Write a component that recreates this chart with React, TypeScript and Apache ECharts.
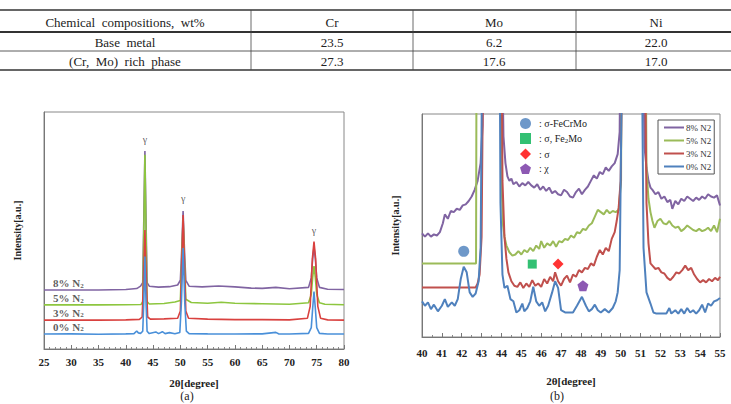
import React, { useEffect, useRef } from "react";
import * as echarts from "echarts";

const serif = "Liberation Serif, Times New Roman, serif";

// ---------- table ----------
const tableHeader = ["Chemical  compositions,  wt%", "Cr", "Mo", "Ni"];
const tableRows = [
  ["Base  metal", "23.5", "6.2", "22.0"],
  ["(Cr,  Mo)  rich  phase", "27.3", "17.6", "17.0"],
];

// ---------- chart (a): wide XRD scan ----------
const aXMin = 25;
const aXMax = 80;
const aXInterval = 5;

const a0 = [[25,6.3],[30,6.4],[35,6.2],[40,6.4],[41.5,6.5],[42,7.6],[42.3,6.8],[42.7,6.6],[43.1,7.5],[43.3,20],[43.5,39],[43.7,20],[43.9,7.5],[44.3,6.5],[45.5,7.2],[46,6.5],[46.7,7.3],[47.2,6.5],[48,6.9],[49,6.4],[49.9,7],[50.2,20],[50.5,42.6],[50.8,20],[51.1,7.5],[51.6,6.5],[55,6.4],[60,6.3],[65,6.4],[67.5,7.0],[68,6.4],[70,6.3],[73.5,6.6],[74.0,9],[74.25,17],[74.5,24.2],[74.75,17],[75.0,9],[75.5,6.6],[77,6.3],[80,6.3]];
const a3 = [[25,12.2],[35,12.2],[40,12.3],[42.5,12.5],[43,13.5],[43.25,30],[43.5,50.2],[43.75,30],[44,13.5],[44.5,12.6],[47,12.7],[49.5,13],[50,16],[50.25,35],[50.5,56.5],[50.75,35],[51.0,16],[51.5,13],[55,12.6],[60,12.4],[65,12.4],[70,12.3],[73.3,13],[73.8,18],[74.2,38],[74.5,45.3],[74.8,38],[75.2,18],[75.7,13],[77,12.3],[80,12.2]];
const a5 = [[25,18.6],[35,18.6],[40,18.7],[42.8,18.8],[43.1,20],[43.3,50],[43.5,82],[43.7,50],[43.9,20],[44.3,19],[47,19.2],[49,19.8],[50,20.5],[50.25,38],[50.5,55],[50.75,38],[51,21],[52,19.6],[55,19.3],[57.5,19.7],[60,19.3],[65,19.1],[70,18.9],[73.5,19.5],[74,23],[74.25,30],[74.5,35],[74.75,30],[75,23],[75.5,19.5],[76.5,18.9],[80,18.7]];
const a8 = [[25,24.9],[35,24.9],[40,25.1],[42,25.5],[42.7,26.5],[43.1,28],[43.3,55],[43.5,83.5],[43.7,55],[43.9,28],[44.3,26.5],[46,26.1],[48,26.3],[49.5,27],[50,29],[50.25,42],[50.5,58.2],[50.75,42],[51,29],[51.6,26.5],[54,26.2],[57,26.6],[60,26.2],[63,25.7],[65,25.6],[67.5,26],[70,25.4],[73.5,26],[74,30],[74.25,38],[74.5,43],[74.75,38],[75,30],[75.5,26],[77,25.2],[80,25.1]];

const gammaPeaks = [[43.5, 88.2], [50.5, 63.7], [74.5, 50.2]];
const aCurveLabels = [[26, 27.8, "8%"], [26, 21.5, "5%"], [26, 15.2, "3%"], [26, 9.3, "0%"]];

// ---------- chart (b): zoomed XRD scan ----------
const bXMin = 40;
const bXMax = 55;
const bXInterval = 1;

const b0 = [[40.0,16],[40.15,14],[40.3,15.5],[40.45,12.5],[40.6,14.5],[40.8,11.5],[41.0,14],[41.15,17],[41.3,13.5],[41.5,15.5],[41.65,14],[41.8,17],[41.95,26],[42.1,31.5],[42.25,29],[42.4,20],[42.55,18],[42.7,19.5],[42.85,25],[42.95,40],[43.05,150],[43.9,150],[43.95,60],[44.05,28],[44.15,22],[44.3,23],[44.45,17],[44.6,16],[44.75,11],[44.9,12],[45.05,15],[45.15,11.5],[45.3,13],[45.45,16],[45.6,22.5],[45.75,16],[45.9,14],[46.05,15.5],[46.2,11.5],[46.35,14],[46.55,20],[46.7,25],[46.85,22],[47.0,12],[47.2,11],[47.4,11],[47.6,11],[47.8,14],[48.05,18],[48.25,14],[48.4,11.5],[48.55,12.5],[48.7,14.5],[48.85,12],[49.0,11],[49.2,12.5],[49.4,11],[49.6,13],[49.75,16],[49.85,20],[49.95,30],[50.1,150],[51.05,150],[51.15,40],[51.3,20],[51.5,15],[51.65,11],[51.8,10.5],[52.0,10.5],[52.3,10.5],[52.45,13],[52.55,10.5],[52.75,12],[52.9,10.5],[53.05,12.5],[53.2,10.5],[53.35,13],[53.5,11],[53.65,12],[53.8,10.5],[53.95,12],[54.1,14.5],[54.25,11],[54.4,15],[54.55,14],[54.7,16],[54.85,16.5],[55.0,17.5]];
const b3 = [[40.0,22.2],[42.7,22.2],[42.8,24],[42.9,28],[43.0,45],[43.1,150],[44.0,150],[44.05,70],[44.15,45],[44.25,35],[44.35,29],[44.5,25],[44.65,23],[44.8,22.5],[44.95,24.5],[45.1,22],[45.25,24],[45.4,22.5],[45.55,25.5],[45.7,23],[45.85,24],[46.0,22.5],[46.15,26],[46.3,24],[46.45,27],[46.6,25],[46.7,29],[46.85,25],[47.0,23],[47.15,26],[47.3,27.5],[47.45,24.5],[47.6,28],[47.75,27],[47.9,30],[48.05,29],[48.2,31],[48.35,30.5],[48.5,33],[48.65,32],[48.8,36],[48.95,39],[49.1,37],[49.25,40],[49.4,38.5],[49.55,44],[49.7,47],[49.8,52],[49.9,58],[50.0,70],[50.1,150],[51.2,150],[51.3,60],[51.4,42],[51.5,33],[51.6,32],[51.75,30.5],[51.9,31],[52.05,29],[52.2,28.5],[52.35,26.5],[52.5,25.5],[52.65,27],[52.8,29],[52.95,28.5],[53.1,30],[53.25,32],[53.4,30],[53.55,31],[53.7,28],[53.85,26],[54.0,24.5],[54.15,25.5],[54.3,24.5],[54.45,26],[54.6,25],[54.75,26.5],[54.9,25.5],[55.0,27]];
const b5 = [[40.0,33],[42.72,33],[42.75,150],[43.95,150],[44.0,70],[44.08,50],[44.15,45],[44.25,41],[44.4,38],[44.55,36.5],[44.7,37],[44.85,38.5],[45.0,37],[45.15,39],[45.3,38],[45.45,40],[45.6,38.5],[45.75,41],[45.9,39.5],[46.0,43],[46.15,40],[46.3,42],[46.45,41],[46.6,43],[46.75,40.5],[46.9,43],[47.05,42.5],[47.2,44],[47.35,43.5],[47.5,45.5],[47.65,44.5],[47.8,47],[47.95,46.5],[48.1,48.5],[48.25,48],[48.4,50],[48.55,51],[48.7,54],[48.85,57],[49.0,56],[49.15,55],[49.3,57],[49.45,55.5],[49.6,56.5],[49.75,56],[49.9,57],[50.02,70],[50.05,150],[51.25,150],[51.3,75],[51.4,62],[51.5,56],[51.6,52],[51.7,49],[51.85,52],[52.0,53],[52.15,51],[52.3,50.5],[52.45,52],[52.6,50],[52.75,49],[52.9,49.5],[53.05,47.5],[53.2,48.5],[53.35,50],[53.5,49],[53.65,48],[53.8,47.5],[53.95,48.5],[54.1,47.5],[54.25,48],[54.4,49],[54.55,47.5],[54.7,50],[54.85,47],[55.0,53]];
const b8 = [[40.0,46.5],[40.15,45],[40.3,46.5],[40.45,45],[40.6,46],[40.75,45.5],[40.9,47],[41.05,51],[41.15,55],[41.3,53],[41.45,56.5],[41.6,56],[41.75,57.5],[41.9,57],[42.05,59],[42.2,59.5],[42.35,61],[42.5,63],[42.65,66],[42.8,70],[42.95,78],[43.05,95],[43.1,150],[44.0,150],[44.1,90],[44.2,78],[44.3,72],[44.4,70],[44.5,71],[44.6,68.5],[44.75,69.5],[44.9,67.5],[45.05,69],[45.2,68],[45.35,69.5],[45.5,68],[45.65,67],[45.8,68.5],[45.95,66],[46.1,67.5],[46.25,65.5],[46.4,67],[46.55,64.5],[46.7,65.5],[46.85,64],[47.0,63.5],[47.15,66],[47.3,65],[47.45,63],[47.6,62.5],[47.75,65],[47.9,66.5],[48.05,64],[48.2,66],[48.35,67.5],[48.5,70],[48.65,72.5],[48.8,71],[48.95,74],[49.1,73],[49.25,76],[49.4,74.5],[49.55,76.5],[49.7,78],[49.85,82],[49.95,92],[50.0,150],[51.1,150],[51.2,85],[51.3,76],[51.4,70],[51.5,67],[51.6,66],[51.75,64],[51.9,65],[52.05,62],[52.2,63],[52.35,60.5],[52.5,61.5],[52.6,57.5],[52.75,61],[52.9,59.5],[53.05,62],[53.2,61],[53.35,63],[53.5,62],[53.65,61],[53.8,62.5],[53.95,61.5],[54.1,63],[54.25,62],[54.4,64],[54.55,63],[54.7,62.5],[54.85,63.5],[55.0,59]];

const phaseNames = [": σ-FeCrMo", ": σ, Fe2Mo", ": σ", ": χ"];
const phasePoints = [[42.1, 38.4], [45.55, 32.7], [46.85, 32.7], [48.1, 23]];

const lineNames = ["8% N2", "5% N2", "3% N2", "0% N2"];

const C_BLUE = "#4F81BD";
const C_RED = "#C0504D";
const C_GREEN = "#9BBB59";
const C_PURPLE = "#8064A2";

export default function App() {
  const ref = useRef<HTMLDivElement>(null);
  useEffect(() => {
    if (!ref.current) return;
    const chart = echarts.init(ref.current, null, { renderer: "svg" });

    const colX = [125, 332, 494, 656];
    const rowY = [22, 42, 61];
    const tableGraphics: any[] = [];
    const hline = (y: number, w: number) => ({
      type: "line", shape: { x1: 0, y1: y, x2: 731, y2: y }, style: { stroke: "#333", lineWidth: w }, silent: true,
    });
    tableGraphics.push(hline(10, 1.5), hline(32, 1.8), hline(51, 0.8), hline(70, 1.5));
    [251, 413, 576].forEach((x) =>
      tableGraphics.push({ type: "line", shape: { x1: x, y1: 10, x2: x, y2: 70 }, style: { stroke: "#444", lineWidth: 0.8 }, silent: true })
    );
    [tableHeader, ...tableRows].forEach((row, ri) => {
      row.forEach((cell, ci) => {
        tableGraphics.push({
          type: "text",
          style: {
            text: cell, x: colX[ci], y: rowY[ri], textAlign: "center", textVerticalAlign: "middle",
            fontFamily: serif, fontSize: 13, fill: "#222",
          },
          silent: true,
        });
      });
    });
    tableGraphics.push(
      { type: "text", style: { text: "(a)", x: 187, y: 396, textAlign: "center", textVerticalAlign: "middle", fontFamily: serif, fontSize: 12, fill: "#222" } },
      { type: "text", style: { text: "(b)", x: 557, y: 396, textAlign: "center", textVerticalAlign: "middle", fontFamily: serif, fontSize: 12, fill: "#222" } }
    );

    const axisLabelStyle = { fontFamily: serif, fontWeight: "bold", fontSize: 11, color: "#222" };
    const nameStyle = { fontFamily: serif, fontWeight: "bold", fontSize: 11, color: "#222" };

    const lineSeries = (name: string, data: number[][], color: string, idx: number, width: number) => ({
      name, type: "line", data, xAxisIndex: idx, yAxisIndex: idx, symbol: "none", showSymbol: false,
      lineStyle: { color, width }, itemStyle: { color }, clip: true, z: 2,
    });

    const pentagon = "path://M50,0 L100,36 L81,95 L19,95 L0,36 Z";
    const phaseSymbols = ["circle", "rect", "diamond", pentagon];
    const phaseColors = ["#4A7EBB", "#00B050", "#FF0000", "#7030A0"];
    const phaseSizes = [11, 9, 11, 11];

    const option: any = {
      animation: false,
      backgroundColor: "#fff",
      textStyle: { fontFamily: serif },
      graphic: tableGraphics,
      grid: [
        { left: 44, right: 387, top: 112, bottom: 55, show: true, borderColor: "#888", borderWidth: 1 },
        { left: 422, right: 11, top: 114, bottom: 67, show: true, borderColor: "#888", borderWidth: 1 },
      ],
      xAxis: [
        {
          gridIndex: 0, type: "value", min: aXMin, max: aXMax, interval: aXInterval,
          axisLine: { lineStyle: { color: "#777" } },
          axisTick: { inside: true, length: 4, lineStyle: { color: "#777" } },
          minorTick: { show: true, splitNumber: 5, length: 2, lineStyle: { color: "#888" } },
          splitLine: { show: false }, minorSplitLine: { show: false },
          axisLabel: { ...axisLabelStyle, margin: 7 },
          name: "2θ[degree]", nameLocation: "middle", nameGap: 28, nameTextStyle: nameStyle,
        },
        {
          gridIndex: 1, type: "value", min: bXMin, max: bXMax, interval: bXInterval,
          axisLine: { lineStyle: { color: "#777" } },
          axisTick: { inside: true, length: 4, lineStyle: { color: "#777" } },
          minorTick: { show: true, splitNumber: 2, length: 2, lineStyle: { color: "#888" } },
          splitLine: { show: false }, minorSplitLine: { show: false },
          axisLabel: { ...axisLabelStyle, margin: 10 },
          name: "2θ[degree]", nameLocation: "middle", nameGap: 38, nameTextStyle: nameStyle,
        },
      ],
      yAxis: [
        {
          gridIndex: 0, type: "value", min: 0, max: 100,
          axisLine: { show: true, lineStyle: { color: "#777" } }, axisTick: { show: false }, axisLabel: { show: false }, splitLine: { show: false },
          name: "Intensity[a.u.]", nameLocation: "middle", nameGap: 22, nameTextStyle: { ...nameStyle, fontSize: 10 },
        },
        {
          gridIndex: 1, type: "value", min: 0, max: 100,
          axisLine: { show: true, lineStyle: { color: "#777" } }, axisTick: { show: false }, axisLabel: { show: false }, splitLine: { show: false },
          name: "Intensity[a.u.]", nameLocation: "middle", nameGap: 22, nameTextStyle: { ...nameStyle, fontSize: 10 },
        },
      ],
      legend: [
        {
          data: lineNames, orient: "vertical", left: 658, top: 120, padding: [3, 3, 3, 5],
          itemWidth: 20, itemHeight: 10, itemGap: 4, borderColor: "#555", borderWidth: 1, selectedMode: false,
          itemStyle: { opacity: 0, borderWidth: 0 },
          textStyle: { fontFamily: serif, fontSize: 9, color: "#333", padding: [0, 0, 0, -3] },
        },
        {
          data: phaseNames.map((n, i) => ({ name: n, icon: phaseSymbols[i], itemStyle: { color: phaseColors[i] } })),
          orient: "vertical", left: 520, top: 118, padding: 0,
          itemWidth: 11, itemHeight: 11, itemGap: 4, selectedMode: false,
          formatter: (name: string) => name.replace("Fe2Mo", "Fe{sub|2}Mo"),
          textStyle: {
            fontFamily: serif, fontSize: 10, color: "#222", padding: [0, 0, 0, 3],
            rich: { sub: { fontFamily: serif, fontSize: 7, color: "#222", padding: [5, 0, 0, 0] } },
          },
        },
      ],
      series: [
        lineSeries("a 8% N2", a8, C_PURPLE, 0, 1.6),
        lineSeries("a 5% N2", a5, "#8DC63F", 0, 1.6),
        lineSeries("a 3% N2", a3, "#D9413F", 0, 1.6),
        lineSeries("a 0% N2", a0, "#4A90D9", 0, 1.6),
        {
          name: "gamma", type: "scatter", xAxisIndex: 0, yAxisIndex: 0, data: gammaPeaks, symbolSize: 1,
          itemStyle: { color: "rgba(0,0,0,0)" }, silent: true,
          label: { show: true, position: "inside", formatter: "γ", fontFamily: serif, fontSize: 10, color: "#333" },
        },
        {
          name: "curve labels", type: "scatter", xAxisIndex: 0, yAxisIndex: 0, symbolSize: 1,
          data: aCurveLabels.map((d) => ({ value: [d[0], d[1]], label: { formatter: `{m|${d[2]} N}{s|2}` } })),
          itemStyle: { color: "rgba(0,0,0,0)" }, silent: true,
          label: {
            show: true, position: "right", distance: 3,
            rich: {
              m: { fontFamily: serif, fontWeight: "bold", fontSize: 11, color: "#333" },
              s: { fontFamily: serif, fontWeight: "bold", fontSize: 7, color: "#333", padding: [5, 0, 0, 0] },
            },
          },
        },
        lineSeries("8% N2", b8, C_PURPLE, 1, 2),
        lineSeries("5% N2", b5, C_GREEN, 1, 2),
        lineSeries("3% N2", b3, C_RED, 1, 2),
        lineSeries("0% N2", b0, C_BLUE, 1, 2),
        ...phaseNames.map((n, i) => ({
          name: n, type: "scatter", xAxisIndex: 1, yAxisIndex: 1, data: [phasePoints[i]],
          symbol: phaseSymbols[i], symbolSize: phaseSizes[i], itemStyle: { color: phaseColors[i] }, z: 5,
        })),
      ],
    };
    chart.setOption(option);
    return () => chart.dispose();
  }, []);

  return (
    <div style={{ position: "fixed", left: 0, top: 0, width: 731, height: 404, background: "#fff" }}>
      <div ref={ref} style={{ width: 731, height: 404 }} />
    </div>
  );
}
